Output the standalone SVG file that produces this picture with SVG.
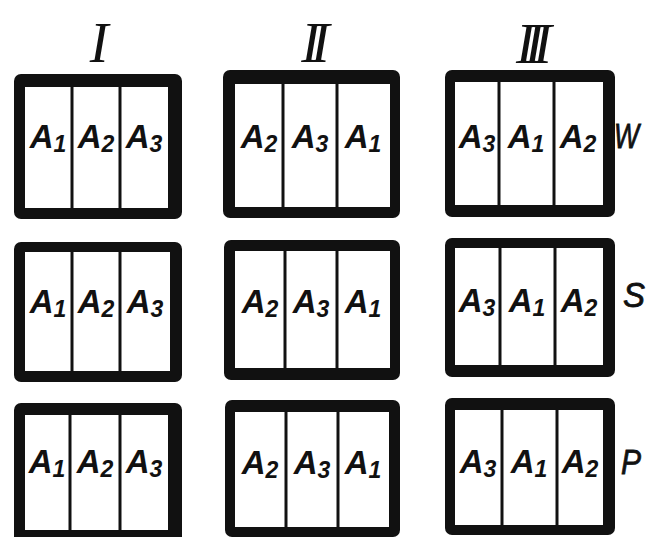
<svg xmlns="http://www.w3.org/2000/svg" width="649" height="537" viewBox="0 0 649 537">
<style>
.frame{fill:#111}
.cell{fill:#fff}
.div{stroke:#111;stroke-width:3}
.lab{font-family:"Liberation Sans",Arial,sans-serif;font-style:italic;font-weight:bold;font-size:33px;fill:#111;text-anchor:middle}
.sub{font-size:23px}
.num{font-family:"Liberation Serif","Times New Roman",serif;font-style:italic;font-size:56px;fill:#111;text-anchor:middle}
.row{font-family:"Liberation Sans",Arial,sans-serif;font-style:italic;font-size:35px;fill:#111;stroke:#111;stroke-width:0.8}
</style>
<rect width="649" height="537" fill="#fff"/>
<g id="headers">
<text class="num" x="99" y="62">I</text>
<text class="num" x="311" y="62" letter-spacing="-9">II</text>
<text class="num" x="529" y="63" letter-spacing="-10">III</text>
</g>
<g id="row-labels">
<text class="row" x="614" y="148" textLength="25" lengthAdjust="spacingAndGlyphs">W</text>
<text class="row" x="623" y="307" textLength="22" lengthAdjust="spacingAndGlyphs" font-family="Liberation Serif">S</text>
<text class="row" x="621" y="474" textLength="20" lengthAdjust="spacingAndGlyphs">P</text>
</g>

<g id="box-W-I">
<rect class="frame" x="14" y="74" width="168" height="145" rx="7"/>
<rect class="cell" x="25" y="87" width="143" height="121"/>
<line class="div" x1="72" y1="87" x2="72" y2="208"/><line class="div" x1="120" y1="87" x2="120" y2="208"/>
<text class="lab" x="48" y="148">A<tspan class="sub" dy="4">1</tspan></text>
<text class="lab" x="96" y="148">A<tspan class="sub" dy="4">2</tspan></text>
<text class="lab" x="144" y="148">A<tspan class="sub" dy="4">3</tspan></text>
</g>
<g id="box-W-II">
<rect class="frame" x="223" y="70" width="177" height="148" rx="7"/>
<rect class="cell" x="235" y="84" width="155" height="123"/>
<line class="div" x1="283" y1="84" x2="283" y2="207"/><line class="div" x1="337" y1="84" x2="337" y2="207"/>
<text class="lab" x="259" y="148">A<tspan class="sub" dy="4">2</tspan></text>
<text class="lab" x="310" y="148">A<tspan class="sub" dy="4">3</tspan></text>
<text class="lab" x="363" y="148">A<tspan class="sub" dy="4">1</tspan></text>
</g>
<g id="box-W-III">
<rect class="frame" x="445" y="70" width="170" height="147" rx="7"/>
<rect class="cell" x="455" y="82" width="148" height="123"/>
<line class="div" x1="499" y1="82" x2="499" y2="205"/><line class="div" x1="554" y1="82" x2="554" y2="205"/>
<text class="lab" x="477" y="148">A<tspan class="sub" dy="4">3</tspan></text>
<text class="lab" x="526" y="148">A<tspan class="sub" dy="4">1</tspan></text>
<text class="lab" x="578" y="148">A<tspan class="sub" dy="4">2</tspan></text>
</g>

<g id="box-S-I">
<rect class="frame" x="14" y="242" width="168" height="140" rx="7"/>
<rect class="cell" x="25" y="252" width="145" height="119"/>
<line class="div" x1="72" y1="252" x2="72" y2="371"/><line class="div" x1="120" y1="252" x2="120" y2="371"/>
<text class="lab" x="48" y="313">A<tspan class="sub" dy="4">1</tspan></text>
<text class="lab" x="96" y="313">A<tspan class="sub" dy="4">2</tspan></text>
<text class="lab" x="145" y="313">A<tspan class="sub" dy="4">3</tspan></text>
</g>
<g id="box-S-II">
<rect class="frame" x="224" y="240" width="176" height="140" rx="7"/>
<rect class="cell" x="235" y="251" width="155" height="117"/>
<line class="div" x1="285" y1="251" x2="285" y2="368"/><line class="div" x1="337" y1="251" x2="337" y2="368"/>
<text class="lab" x="260" y="313">A<tspan class="sub" dy="4">2</tspan></text>
<text class="lab" x="311" y="313">A<tspan class="sub" dy="4">3</tspan></text>
<text class="lab" x="363" y="313">A<tspan class="sub" dy="4">1</tspan></text>
</g>
<g id="box-S-III">
<rect class="frame" x="445" y="238" width="170" height="139" rx="7"/>
<rect class="cell" x="455" y="248" width="148" height="117"/>
<line class="div" x1="500" y1="248" x2="500" y2="365"/><line class="div" x1="555" y1="248" x2="555" y2="365"/>
<text class="lab" x="477" y="312">A<tspan class="sub" dy="4">3</tspan></text>
<text class="lab" x="527" y="312">A<tspan class="sub" dy="4">1</tspan></text>
<text class="lab" x="579" y="312">A<tspan class="sub" dy="4">2</tspan></text>
</g>

<g id="box-P-I">
<rect class="frame" x="14" y="403" width="168" height="140" rx="7"/>
<rect class="cell" x="25" y="415" width="143" height="115"/>
<line class="div" x1="70" y1="415" x2="70" y2="530"/><line class="div" x1="120" y1="415" x2="120" y2="530"/>
<text class="lab" x="47" y="473">A<tspan class="sub" dy="4">1</tspan></text>
<text class="lab" x="95" y="473">A<tspan class="sub" dy="4">2</tspan></text>
<text class="lab" x="144" y="473">A<tspan class="sub" dy="4">3</tspan></text>
</g>
<g id="box-P-II">
<rect class="frame" x="225" y="400" width="175" height="137" rx="7"/>
<rect class="cell" x="235" y="412" width="154" height="115"/>
<line class="div" x1="286" y1="412" x2="286" y2="527"/><line class="div" x1="338" y1="412" x2="338" y2="527"/>
<text class="lab" x="260" y="474">A<tspan class="sub" dy="4">2</tspan></text>
<text class="lab" x="312" y="474">A<tspan class="sub" dy="4">3</tspan></text>
<text class="lab" x="363" y="474">A<tspan class="sub" dy="4">1</tspan></text>
</g>
<g id="box-P-III">
<rect class="frame" x="445" y="398" width="170" height="137" rx="7"/>
<rect class="cell" x="455" y="410" width="148" height="115"/>
<line class="div" x1="502" y1="410" x2="502" y2="525"/><line class="div" x1="557" y1="410" x2="557" y2="525"/>
<text class="lab" x="478" y="473">A<tspan class="sub" dy="4">3</tspan></text>
<text class="lab" x="529" y="473">A<tspan class="sub" dy="4">1</tspan></text>
<text class="lab" x="580" y="473">A<tspan class="sub" dy="4">2</tspan></text>
</g>
<g id="connectors"/>
</svg>
